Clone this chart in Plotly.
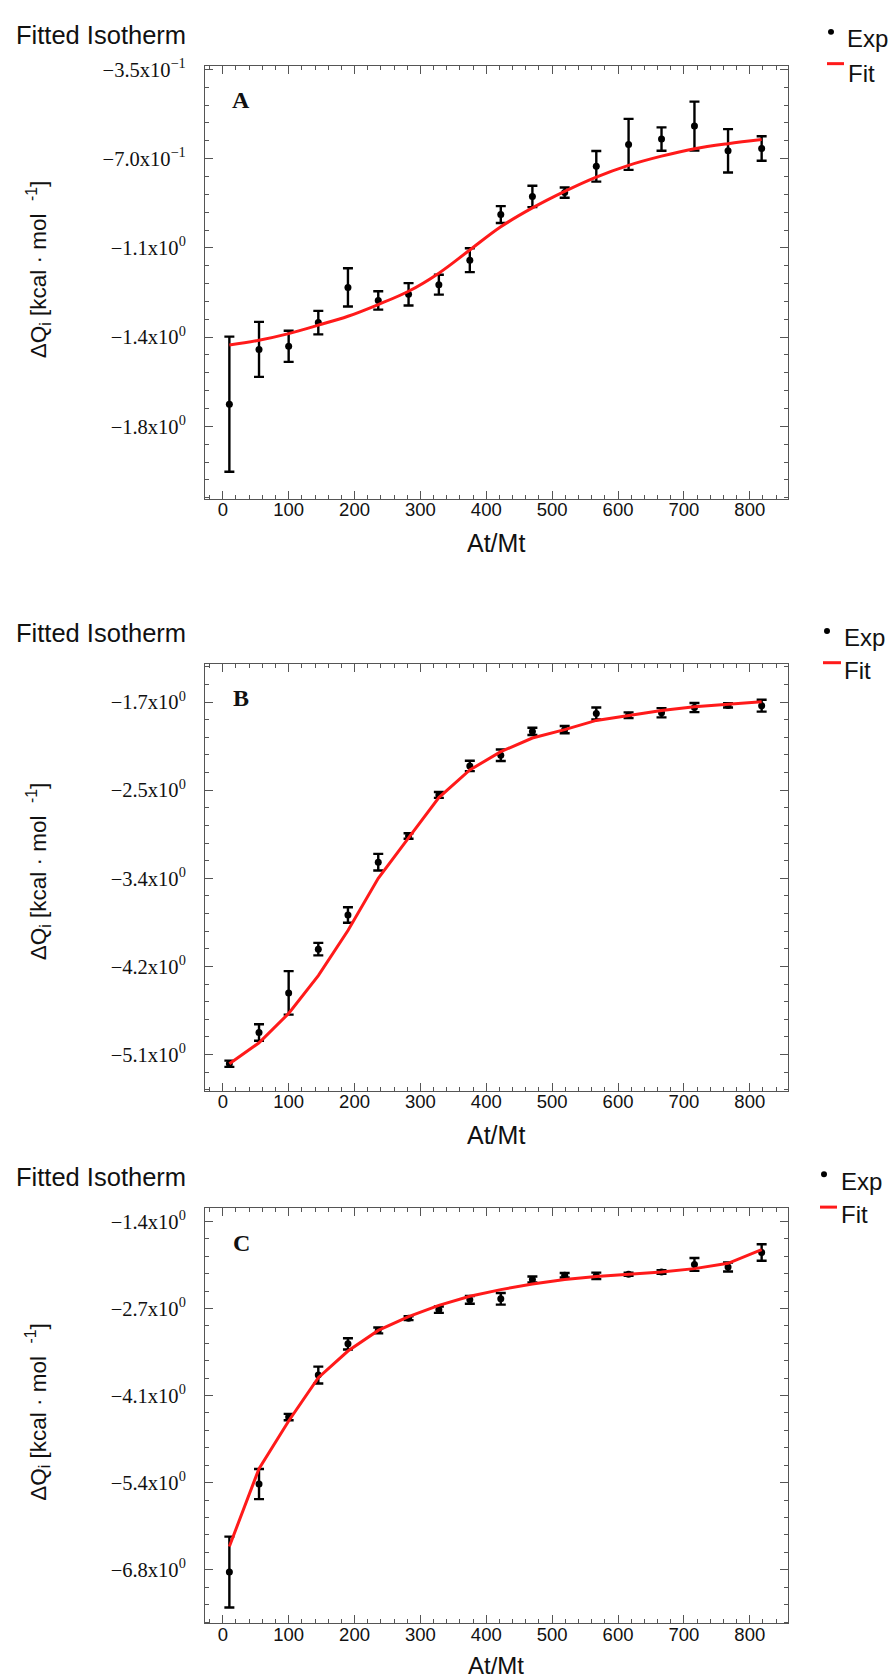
import plotly.graph_objects as go

# ---------------- data ----------------
at_mt = [10, 55, 100, 145, 190, 236, 282, 328, 375, 422, 470, 519, 567, 616, 666, 716, 767, 818]

exp_a = [-1.663, -1.448, -1.436, -1.343, -1.205, -1.256, -1.232, -1.194, -1.098, -0.919,
         -0.848, -0.833, -0.730, -0.644, -0.623, -0.572, -0.669, -0.660]
err_a = [0.265, 0.108, 0.061, 0.046, 0.075, 0.036, 0.044, 0.039, 0.047, 0.033,
         0.042, 0.020, 0.060, 0.100, 0.046, 0.096, 0.085, 0.048]
fit_a = [-1.431, -1.412, -1.386, -1.353, -1.318, -1.272, -1.220, -1.149, -1.058, -0.967,
         -0.893, -0.828, -0.772, -0.726, -0.690, -0.661, -0.641, -0.625]

exp_b = [-5.188, -4.887, -4.505, -4.083, -3.754, -3.244, -2.992, -2.596, -2.316, -2.213,
         -1.983, -1.966, -1.810, -1.827, -1.803, -1.753, -1.732, -1.735]
err_b = [0.030, 0.080, 0.210, 0.060, 0.075, 0.080, 0.027, 0.028, 0.050, 0.055,
         0.035, 0.035, 0.058, 0.028, 0.045, 0.044, 0.020, 0.057]
fit_b = [-5.188, -4.986, -4.703, -4.338, -3.903, -3.400, -3.010, -2.621, -2.355, -2.178,
         -2.047, -1.966, -1.877, -1.827, -1.781, -1.746, -1.721, -1.697]

exp_c = [-6.785, -5.421, -4.383, -3.732, -3.248, -3.040, -2.851, -2.719, -2.566, -2.551,
         -2.251, -2.185, -2.195, -2.169, -2.134, -2.017, -2.057, -1.833]
err_c = [0.550, 0.234, 0.050, 0.130, 0.087, 0.046, 0.030, 0.050, 0.060, 0.090,
         0.046, 0.035, 0.050, 0.025, 0.028, 0.100, 0.070, 0.127]
fit_c = [-6.388, -5.182, -4.444, -3.772, -3.360, -3.040, -2.826, -2.653, -2.510, -2.408,
         -2.322, -2.251, -2.205, -2.169, -2.134, -2.083, -2.001, -1.788]

x_ticks = [0, 100, 200, 300, 400, 500, 600, 700, 800]
y_ticks_a = [-0.35, -0.70, -1.05, -1.40, -1.75]
y_text_a = ["−3.5x10<sup>−1</sup>", "−7.0x10<sup>−1</sup>", "−1.1x10<sup>0</sup>",
            "−1.4x10<sup>0</sup>", "−1.8x10<sup>0</sup>"]
y_ticks_b = [-1.70, -2.55, -3.40, -4.25, -5.10]
y_text_b = ["−1.7x10<sup>0</sup>", "−2.5x10<sup>0</sup>", "−3.4x10<sup>0</sup>",
            "−4.2x10<sup>0</sup>", "−5.1x10<sup>0</sup>"]
y_ticks_c = [-1.35, -2.70, -4.05, -5.40, -6.75]
y_text_c = ["−1.4x10<sup>0</sup>", "−2.7x10<sup>0</sup>", "−4.1x10<sup>0</sup>",
            "−5.4x10<sup>0</sup>", "−6.8x10<sup>0</sup>"]

panel_letters = ["A", "B", "C"]
title_text = "Fitted Isotherm"
x_title = "At/Mt"
y_title = "ΔQ<sub>i</sub> [kcal · mol  <sup>-1</sup>]"
legend_names = ["Exp", "Fit"]

# ---------------- layout geometry (pixels) ----------------
W, H = 894, 1679
def fy(p):
    return 1 - p / H
def fx(p):
    return p / W

frame_x = (205, 788)
panels = [
    dict(top=55, bottom=491, yr=[-2.034, -0.335], ticks=y_ticks_a, text=y_text_a, minor=0.07,
         exp=exp_a, err=err_a, fit=fit_a, shape="spline",
         title_y=24, ylab_y=260, xlab_y=536, xlab_size=25,
         leg=(831, 21, 845, 28, 827, 844, 53, 846, 63)),
    dict(top=657, bottom=1087, yr=[-5.45, -1.33], ticks=y_ticks_b, text=y_text_b, minor=0.17,
         exp=exp_b, err=err_b, fit=fit_b, shape="linear",
         title_y=626, ylab_y=866, xlab_y=1131, xlab_size=25,
         leg=(827, 624, 842, 631, 823, 841, 656, 842, 664)),
    dict(top=1205, bottom=1623, yr=[-7.58, -1.145], ticks=y_ticks_c, text=y_text_c, minor=0.27,
         exp=exp_c, err=err_c, fit=fit_c, shape="linear",
         title_y=1174, ylab_y=1410, xlab_y=1665, xlab_size=24,
         leg=(824, 1171, 839, 1178, 820, 837, 1204, 839, 1211)),
]

line_col = "#555555"
fig = go.Figure()
annotations = []
shapes = []

for i, p in enumerate(panels):
    n = "" if i == 0 else str(i + 1)
    xa, ya = "x" + n, "y" + n
    fig.add_trace(go.Scatter(
        x=at_mt, y=p["exp"], mode="markers", name=legend_names[0], showlegend=False,
        marker=dict(color="black", size=7),
        error_y=dict(type="data", array=p["err"], visible=True, color="black",
                     thickness=2.4, width=5),
        xaxis=xa, yaxis=ya))
    fig.add_trace(go.Scatter(
        x=at_mt, y=p["fit"], mode="lines", name=legend_names[1], showlegend=False,
        line=dict(color="#ff1a1a", width=3, shape=p["shape"], smoothing=1.0),
        xaxis=xa, yaxis=ya))

    common = dict(showline=True, linecolor=line_col, linewidth=1.2, mirror="allticks",
                  ticks="inside", ticklen=8, tickwidth=1.2, tickcolor=line_col,
                  showgrid=False, zeroline=False)
    fig.layout["xaxis" + n] = dict(
        common, domain=[fx(frame_x[0]), fx(frame_x[1])], range=[-27, 858],
        anchor=ya, tickvals=x_ticks, ticktext=[str(v) for v in x_ticks],
        tickfont=dict(family="Liberation Sans", size=18.5, color="#111"),
        ticklabelstandoff=-6,
        minor=dict(ticks="inside", ticklen=4, tickwidth=1, tickcolor=line_col,
                   tick0=0, dtick=20, showgrid=False))
    fig.layout["yaxis" + n] = dict(
        common, domain=[fy(p["bottom"]), fy(p["top"])], range=p["yr"],
        anchor=xa, tickvals=p["ticks"], ticktext=p["text"],
        tickfont=dict(family="Liberation Serif", size=20.5, color="#111"),
        ticklabelstandoff=14,
        minor=dict(ticks="inside", ticklen=4, tickwidth=1, tickcolor=line_col,
                   tick0=p["ticks"][0], dtick=p["minor"], showgrid=False))

    annotations.append(dict(text=title_text, x=fx(14), y=fy(p["title_y"]), xref="paper", yref="paper",
                            xanchor="left", yanchor="middle", showarrow=False,
                            font=dict(family="Liberation Sans", size=25.5, color="#111")))
    annotations.append(dict(text=y_title, x=fx(38), y=fy(p["ylab_y"]), xref="paper", yref="paper",
                            xanchor="center", yanchor="middle", showarrow=False, textangle=-90,
                            font=dict(family="Liberation Sans", size=22.5, color="#111")))
    annotations.append(dict(text=x_title, x=fx((frame_x[0] + frame_x[1]) / 2), y=fy(p["xlab_y"]),
                            xref="paper", yref="paper", xanchor="center", yanchor="middle",
                            showarrow=False,
                            font=dict(family="Liberation Sans", size=p["xlab_size"], color="#111")))
    annotations.append(dict(text="<b>" + panel_letters[i] + "</b>", x=fx(241), y=fy(p["top"] + 35),
                            xref="paper", yref="paper", xanchor="center", yanchor="middle",
                            showarrow=False,
                            font=dict(family="Liberation Serif", size=24, color="#111")))
    dx, dyy, ex, ey, lx0, lx1, ly, fxx, fyy = p["leg"]
    annotations.append(dict(text=legend_names[0], x=fx(ex), y=fy(ey), xref="paper", yref="paper",
                            xanchor="left", yanchor="middle", showarrow=False,
                            font=dict(family="Liberation Sans", size=24, color="#111")))
    annotations.append(dict(text=legend_names[1], x=fx(fxx), y=fy(fyy), xref="paper", yref="paper",
                            xanchor="left", yanchor="middle", showarrow=False,
                            font=dict(family="Liberation Sans", size=24, color="#111")))
    shapes.append(dict(type="circle", xref="paper", yref="paper",
                       x0=fx(dx - 3), x1=fx(dx + 3), y0=fy(dyy + 3), y1=fy(dyy - 3),
                       fillcolor="black", line=dict(width=0)))
    shapes.append(dict(type="line", xref="paper", yref="paper",
                       x0=fx(lx0), x1=fx(lx1), y0=fy(ly), y1=fy(ly),
                       line=dict(color="#ff1a1a", width=3)))

fig.update_layout(width=W, height=H, margin=dict(l=0, r=0, t=0, b=0),
                  paper_bgcolor="white", plot_bgcolor="white",
                  annotations=annotations, shapes=shapes, showlegend=False)

fig.write_html("out.html", config={"displayModeBar": False},
               post_script="document.body.style.margin='0px';")
